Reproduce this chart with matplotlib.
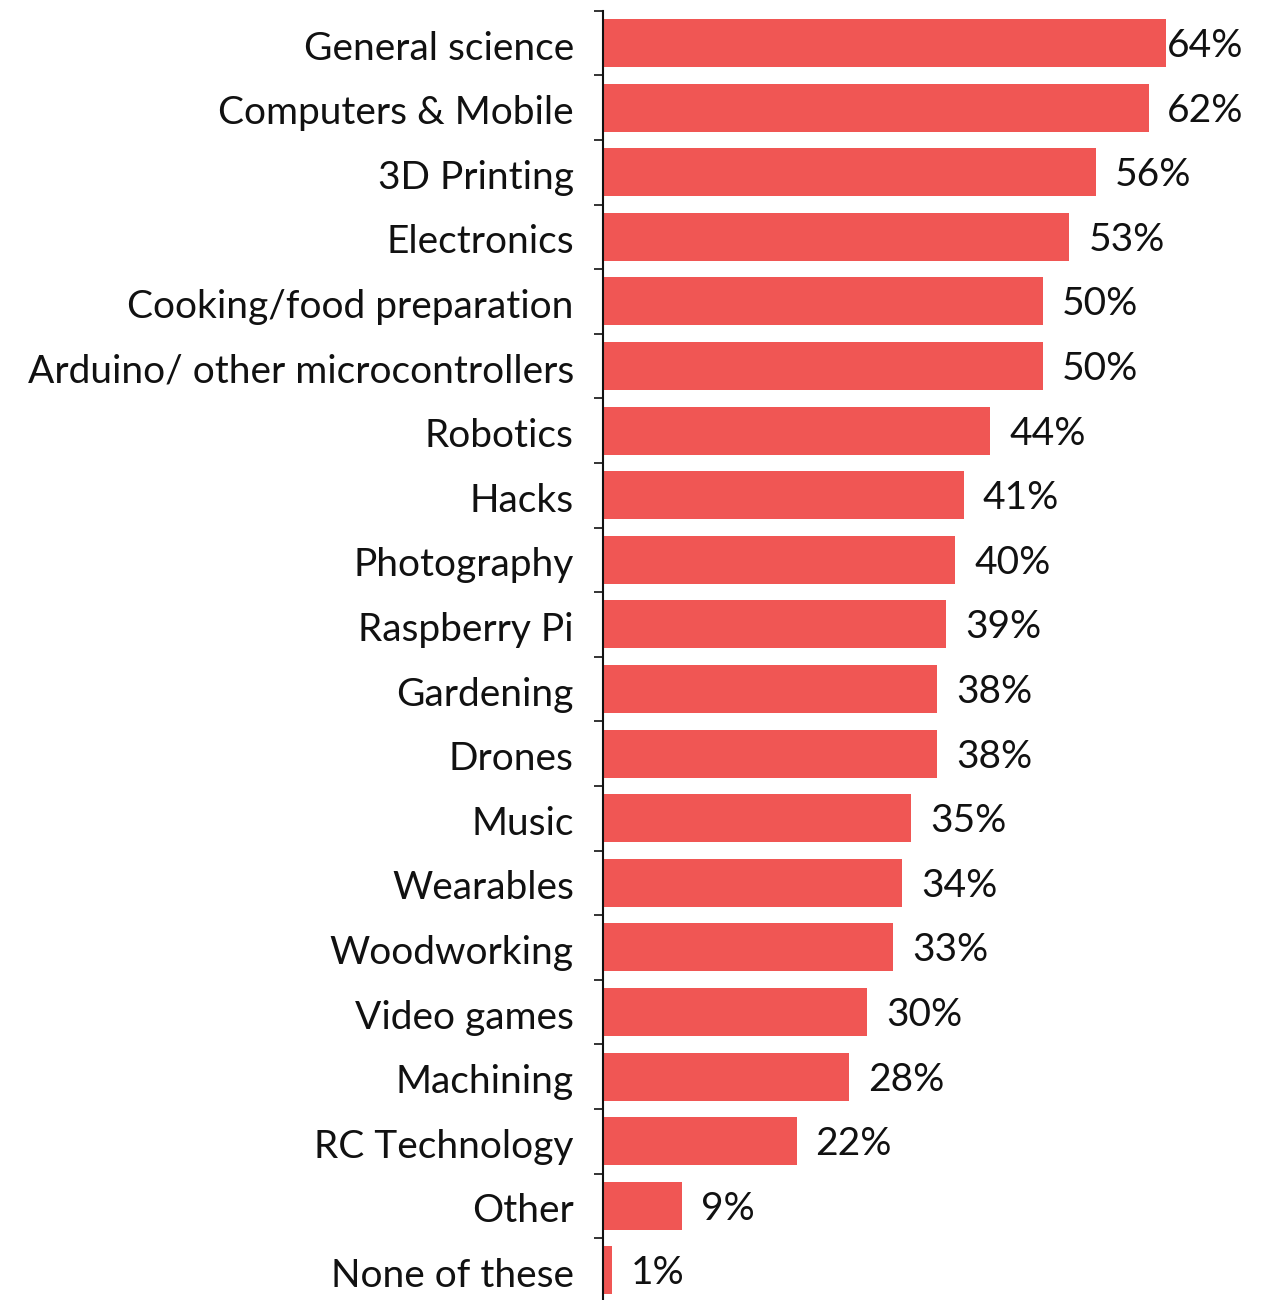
import matplotlib
matplotlib.use("Agg")
import matplotlib.pyplot as plt
from matplotlib.ticker import FixedLocator
from matplotlib.transforms import offset_copy

categories = [
    "General science", "Computers & Mobile", "3D Printing", "Electronics",
    "Cooking/food preparation", "Arduino/ other microcontrollers", "Robotics",
    "Hacks", "Photography", "Raspberry Pi", "Gardening", "Drones", "Music",
    "Wearables", "Woodworking", "Video games", "Machining", "RC Technology",
    "Other", "None of these",
]
values = [64, 62, 56, 53, 50, 50, 44, 41, 40, 39, 38, 38, 35, 34, 33, 30, 28, 22, 9, 1]
value_labels = [f"{v}%" for v in values]

W, H, DPI = 1271, 1300, 100
fig = plt.figure(figsize=(W / DPI, H / DPI), dpi=DPI)
plt.rcParams["font.family"] = ["Lato", "DejaVu Sans"]

left_px, right_px = 603, W
top_px, pitch = 10.7, 64.6
n = len(categories)
bottom_px = top_px + n * pitch
ax = fig.add_axes([left_px / W, 1 - bottom_px / H,
                   (right_px - left_px) / W, (bottom_px - top_px) / H])

px_per_unit = 8.8
ax.set_xlim(0, (right_px - left_px) / px_per_unit)
ax.set_ylim(n - 0.5, -0.5)

ypos = list(range(n))
ax.barh(ypos, values, height=48 / pitch, color="#F05654", zorder=2)

for s in ["top", "right", "bottom"]:
    ax.spines[s].set_visible(False)
ax.spines["left"].set_linewidth(1.5)
ax.spines["left"].set_color("#111111")
ax.set_xticks([])

fs = 28
ax.set_yticks(ypos)
ax.set_yticklabels(categories, fontsize=fs, color="#111111")
ax.tick_params(axis="y", which="major", length=0, pad=21)
for lab in ax.get_yticklabels():
    lab.set_transform(offset_copy(lab.get_transform(), fig=fig, x=0, y=-2, units="dots"))
ax.yaxis.set_minor_locator(FixedLocator([i - 0.5 for i in range(n + 1)]))
ax.tick_params(axis="y", which="minor", length=6.5, width=1.2, color="#111111")

fig.canvas.draw()
renderer = fig.canvas.get_renderer()
offset_px = 19
limit_px = 1243
for y, v, lab in zip(ypos, values, value_labels):
    xpix = ax.transData.transform((v, y))[0] + offset_px
    t = ax.text(0, y, lab, fontsize=fs, color="#111111", va="center", ha="left",
                transform=offset_copy(ax.transData, fig=fig, x=0, y=-3, units="dots"))
    w = t.get_window_extent(renderer).width
    if xpix + w > limit_px:
        xpix = limit_px - w
    xdata = ax.transData.inverted().transform((xpix, 0))[0]
    t.set_x(xdata)

fig.savefig("out.png", dpi=DPI)
